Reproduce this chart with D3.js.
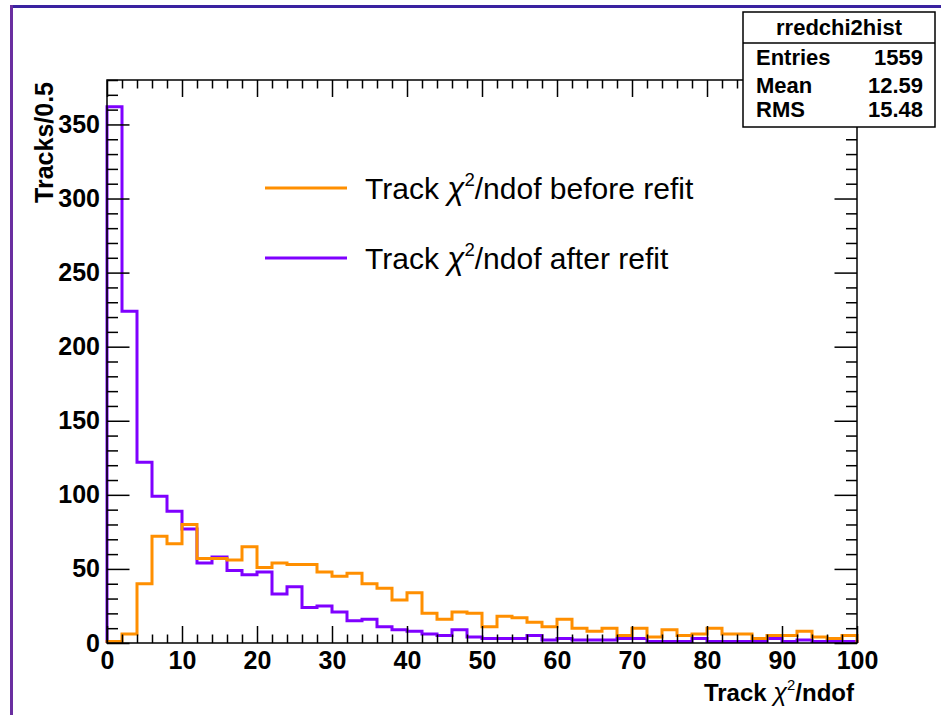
<!DOCTYPE html>
<html><head><meta charset="utf-8">
<script src="https://cdn.jsdelivr.net/npm/d3@7/dist/d3.min.js"></script>
<style>
body{margin:0;background:#fff;}
svg{display:block;}
text{font-family:"Liberation Sans",Arial,Helvetica,sans-serif;}
</style></head>
<body><svg id="c" width="941" height="715"></svg>
<script>
// bin width 2, range 0..100 (50 bins)
const binLow = d3.range(0, 100, 2);
const afterRefit = [362,224,122,99,89,77,54,58,49,46,48,33,38,24,25,21,15,16,11,9,
  8,6,5,9,4,3,3,3,5,2,3,2,2,2,3,3,1,1,1,3,1,1,1,1,3,1,2,1,1,1];
const beforeRefit = [1,6,40,72,67,80,57,57,56,65,51,54,53,53,48,45,47,40,37,29,
  34,20,16,21,20,11,18,17,14,11,16,10,8,10,5,10,4,9,5,6,10,6,6,3,5,5,8,4,3,5];
const xTicksMajor = [0,10,20,30,40,50,60,70,80,90,100];
const yTicksMajor = [0,50,100,150,200,250,300,350];
const statsTitle = "rredchi2hist";
const statsRows = [["Entries","1559"],["Mean","12.59"],["RMS","15.48"]];
const legendLabels = ["before refit","after refit"];
const colors = {before:"#ff8f00", after:"#7f00ff"};

const svg = d3.select("#c");
const L=107,R=857,T=80,B=643;
const x = d3.scaleLinear().domain([0,100]).range([L,R]);
const y = d3.scaleLinear().domain([0,380]).range([B,T]);

// canvas border
svg.append("rect").attr("x",0).attr("y",0).attr("width",941).attr("height",715).attr("fill","#fff");
svg.append("line").attr("x1",10).attr("x2",941).attr("y1",6.5).attr("y2",6.5).attr("stroke","#3a22a0").attr("stroke-width",3);
svg.append("line").attr("x1",11.5).attr("x2",11.5).attr("y1",5).attr("y2",715).attr("stroke","#6a2ea0").attr("stroke-width",3);

// histograms
function stepPath(vals){
  const p = d3.path();
  p.moveTo(x(0), y(0));
  vals.forEach((v,i)=>{
    p.lineTo(x(binLow[i]), y(v));
    p.lineTo(x(binLow[i]+2), y(v));
  });
  p.lineTo(x(100), y(0));
  return p.toString();
}
svg.append("path").attr("d",stepPath(afterRefit)).attr("fill","none").attr("stroke",colors.after).attr("stroke-width",3);
svg.append("path").attr("d",stepPath(beforeRefit)).attr("fill","none").attr("stroke",colors.before).attr("stroke-width",3);

// frame
svg.append("rect").attr("x",L).attr("y",T).attr("width",R-L).attr("height",B-T).attr("fill","none").attr("stroke","#000").attr("stroke-width",1.5);

const xMinor = d3.range(0,101,2).filter(v=>v%10!==0);
const yMinor = d3.range(0,381,10).filter(v=>v%50!==0);
function ticks(gen, pos, vals, size){
  const g = svg.append("g").attr("transform",pos).call(gen.tickValues(vals).tickSize(size).tickFormat(""));
  g.select(".domain").remove();
  g.selectAll("line").attr("stroke","#000").attr("stroke-width",1.5);
}
ticks(d3.axisTop(x), `translate(0,${B})`, xTicksMajor, 17);
ticks(d3.axisTop(x), `translate(0,${B})`, xMinor, 8.5);
ticks(d3.axisBottom(x), `translate(0,${T})`, xTicksMajor, 17);
ticks(d3.axisBottom(x), `translate(0,${T})`, xMinor, 8.5);
ticks(d3.axisRight(y), `translate(${L},0)`, yTicksMajor, 22.5);
ticks(d3.axisRight(y), `translate(${L},0)`, yMinor, 11);
ticks(d3.axisLeft(y), `translate(${R},0)`, yTicksMajor, 22.5);
ticks(d3.axisLeft(y), `translate(${R},0)`, yMinor, 11);

// tick labels
const lf = "Liberation Sans, Arial, sans-serif";
const xl = svg.append("g").attr("transform",`translate(0,${B})`).call(d3.axisBottom(x).tickValues(xTicksMajor).tickSize(0).tickPadding(8).tickFormat(d3.format("d")));
xl.select(".domain").remove();
xl.selectAll("text").attr("font-size",25).attr("font-weight","bold").attr("fill","#000").attr("font-family",lf);
const yl = svg.append("g").attr("transform",`translate(${L},0)`).call(d3.axisLeft(y).tickValues(yTicksMajor).tickSize(0).tickPadding(7).tickFormat(d3.format("d")));
yl.select(".domain").remove();
yl.selectAll("text").attr("font-size",25).attr("font-weight","bold").attr("fill","#000").attr("font-family",lf);

// axis titles
function chiText(sel, before, after, size, weight){
  sel.attr("font-size",size).attr("font-weight",weight);
  sel.append("tspan").text(before);
  sel.append("tspan").text("χ").attr("font-weight","normal").attr("font-style","italic").attr("font-size",size*1.05);
  sel.append("tspan").text("2").attr("font-size",size*0.62).attr("dy",-size*0.45).attr("font-weight","normal");
  sel.append("tspan").text(after).attr("dy",size*0.45);
}
chiText(svg.append("text").attr("x",R-3).attr("y",701).attr("text-anchor","end"), "Track ", "/ndof", 24, "bold");
svg.append("text").attr("transform",`translate(53,${T+2}) rotate(-90)`).attr("text-anchor","end")
  .attr("font-size",25).attr("font-weight","bold").text("Tracks/0.5");

// legend
const leg = [{c:colors.before,t:legendLabels[0],ly:188,ty:199},{c:colors.after,t:legendLabels[1],ly:258,ty:269}];
leg.forEach(d=>{
  svg.append("line").attr("x1",265).attr("x2",347).attr("y1",d.ly).attr("y2",d.ly).attr("stroke",d.c).attr("stroke-width",3);
  chiText(svg.append("text").attr("x",365).attr("y",d.ty), "Track ", "/ndof "+d.t, 30, "normal");
});

// stats box
const sb = {x:743,y:12,w:192,h:115};
svg.append("rect").attr("x",sb.x).attr("y",sb.y).attr("width",sb.w).attr("height",sb.h).attr("fill","#fff").attr("stroke","#000").attr("stroke-width",1.5);
svg.append("line").attr("x1",sb.x).attr("x2",sb.x+sb.w).attr("y1",43).attr("y2",43).attr("stroke","#000").attr("stroke-width",1.5);
svg.append("text").attr("x",sb.x+sb.w/2).attr("y",35).attr("text-anchor","middle").attr("font-size",22).attr("font-weight","bold").text(statsTitle);
const rowY=[65,93,117];
statsRows.forEach((r,i)=>{
  svg.append("text").attr("x",756).attr("y",rowY[i]).attr("font-size",22).attr("font-weight","bold").text(r[0]);
  svg.append("text").attr("x",923).attr("y",rowY[i]).attr("text-anchor","end").attr("font-size",22).attr("font-weight","bold").text(r[1]);
});
</script></body></html>
